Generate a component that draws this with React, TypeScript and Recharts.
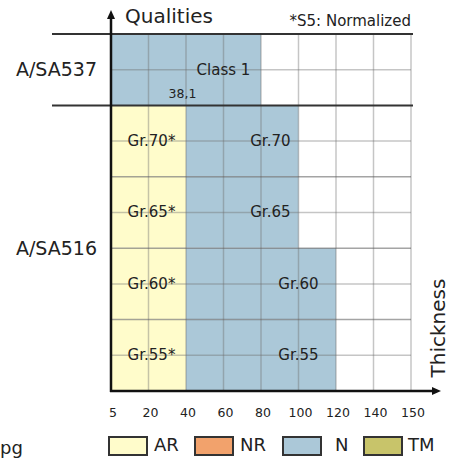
import React from 'react'
import { BarChart, Bar, XAxis, YAxis, ReferenceLine, ReferenceDot, Legend, LabelList } from 'recharts'

// thickness ticks (mm) - evenly spaced on the axis even though the values aren't
const thicknessTicks = [5, 20, 40, 60, 80, 100, 120, 140, 150]
const minThickness = 5

// qualities, top to bottom
const qualities = ['A/SA537 Class 1', 'Gr.70', 'Gr.65', 'Gr.60', 'Gr.55']
const standards = ['A/SA537', 'A/SA516']
const arLabels = ['', 'Gr.70*', 'Gr.65*', 'Gr.60*', 'Gr.55*']
const nLabels = ['Class 1', 'Gr.70', 'Gr.65', 'Gr.60', 'Gr.55']
const arMaxThickness = [0, 40, 40, 40, 40]
const nMaxThickness = [80, 100, 100, 120, 120]

const deliveryConditions = ['AR', 'NR', 'N', 'TM']
const conditionColors = ['#fffccb', '#f2a26c', '#abc8d8', '#c8c46a']

const class1Note = { text: '38,1', thickness: 38.1 }
const footnote = '*S5: Normalized'

const FONT = "'DejaVu Sans', sans-serif"

// map a thickness onto the evenly spaced tick index scale
const tickPos = (t: number) => {
  for (let i = 0; i < thicknessTicks.length - 1; i++) {
    const a = thicknessTicks[i]
    const b = thicknessTicks[i + 1]
    if (t <= b) return i + (t - a) / (b - a)
  }
  return thicknessTicks.length - 1
}

const data = qualities.map((q, i) => {
  const arEnd = arMaxThickness[i] ? tickPos(arMaxThickness[i]) : tickPos(minThickness)
  return {
    quality: q,
    AR: arEnd - tickPos(minThickness),
    NR: 0,
    N: tickPos(nMaxThickness[i]) - arEnd,
    TM: 0,
    arLabel: arLabels[i],
    nLabel: nLabels[i],
  }
})

const tickIdx = thicknessTicks.map((_, i) => i)
const gridColor = 'rgba(110,110,110,0.4)'
const rowLineColor = 'rgba(90,90,90,0.55)'

const ArLabel = (props: any) => {
  const { x, y, width, height, value } = props
  if (!value) return null
  return (
    <text x={x + width / 2 + 3} y={y + height / 2} textAnchor="middle" dominantBaseline="central"
      fontSize={15} fontFamily={FONT} fill="#222">{value}</text>
  )
}

const NLabel = (props: any) => {
  const { x, y, width, height, value } = props
  if (!value) return null
  return (
    <text x={x + width * 0.75} y={y + height / 2} textAnchor="middle" dominantBaseline="central"
      fontSize={15} fontFamily={FONT} fill="#222">{value}</text>
  )
}

// heavy rule that reaches out past the axis to the standard labels
const BlackRule = (props: any) => {
  const { x1, x2, y1 } = props
  const left = Math.min(x1, x2)
  const right = Math.max(x1, x2)
  return <line x1={left - 59} x2={right + 2} y1={y1} y2={y1} stroke="#333" strokeWidth={2} />
}

const XArrow = (props: any) => {
  const { x1, x2, y1 } = props
  const left = Math.min(x1, x2)
  const tip = Math.max(x1, x2) + 30
  return (
    <g>
      <line x1={left - 1} x2={tip - 6} y1={y1} y2={y1} stroke="#111" strokeWidth={2.5} />
      <path d={`M${tip},${y1} L${tip - 9},${y1 - 4} L${tip - 9},${y1 + 4} Z`} fill="#111" />
    </g>
  )
}

const YArrow = (props: any) => {
  const { x1, y1, y2 } = props
  const top = Math.min(y1, y2) - 24
  const bottom = Math.max(y1, y2)
  return (
    <g>
      <line x1={x1} x2={x1} y1={top + 6} y2={bottom + 1} stroke="#111" strokeWidth={2.5} />
      <path d={`M${x1},${top} L${x1 - 4},${top + 9} L${x1 + 4},${top + 9} Z`} fill="#111" />
    </g>
  )
}

const noteLabel = (props: any) => {
  const { viewBox } = props
  const cx = viewBox.x + viewBox.width / 2
  const cy = viewBox.y + viewBox.height / 2
  return (
    <text x={cx} y={cy + 24} textAnchor="middle" dominantBaseline="central"
      fontSize={12.5} fontFamily={FONT} fill="#222">{class1Note.text}</text>
  )
}

const legendBoxLeft = [108, 194, 282, 363]
const legendTextLeft = [154, 240, 335, 408]

const renderLegend = (props: any) => {
  const payload = props.payload || []
  // keep the legend in series order, not alphabetical
  const items = deliveryConditions
    .map((c) => payload.find((p: any) => p.value === c))
    .filter(Boolean)
  return (
    <div style={{ position: 'relative', height: 36, width: 455, fontFamily: FONT }}>
      {items.map((p: any, i: number) => (
        <React.Fragment key={p.value}>
          <div style={{
            position: 'absolute', left: legendBoxLeft[i], top: 15, width: 36, height: 16,
            background: p.color, border: '2px solid #333'
          }} />
          <div style={{
            position: 'absolute', left: legendTextLeft[i], top: 13, fontSize: 18, lineHeight: '22px', color: '#222'
          }}>{p.value}</div>
        </React.Fragment>
      ))}
    </div>
  )
}

const labelStyle = { fontSize: 19, fontFamily: FONT, fill: '#222' }

export default function App() {
  return (
    <div style={{ position: 'absolute', left: 0, top: 0, width: 455, height: 460, overflow: 'hidden', background: '#fff' }}>
      <BarChart
        width={455}
        height={460}
        data={data}
        layout="vertical"
        barCategoryGap={0}
        margin={{ top: 34, right: 44, left: 111, bottom: 3 }}
        style={{ fontFamily: FONT }}
      >
        <XAxis
          type="number"
          domain={[0, thicknessTicks.length - 1]}
          ticks={tickIdx}
          tickFormatter={(v: number) => String(thicknessTicks[v])}
          axisLine={false}
          tickLine={false}
          tickMargin={11}
          height={30}
          tick={{ fill: '#222', fontSize: 12.5, fontFamily: FONT, dx: 2 }}
          interval={0}
        />
        <YAxis type="category" dataKey="quality" hide />
        <Legend verticalAlign="bottom" content={renderLegend} wrapperStyle={{ left: 0, width: 455 }} />

        {deliveryConditions.map((c, i) => (
          <Bar key={c} dataKey={c} name={c} stackId="q" fill={conditionColors[i]} isAnimationActive={false}>
            {c === 'AR' && <LabelList dataKey="arLabel" content={ArLabel} />}
            {c === 'N' && <LabelList dataKey="nLabel" content={NLabel} />}
          </Bar>
        ))}

        {tickIdx.slice(1).map((t) => (
          <ReferenceLine key={'v' + t} x={t} stroke={gridColor} strokeWidth={1.5} />
        ))}
        {qualities.map((q, i) => (
          <ReferenceLine key={'m' + q} y={q} position="middle" stroke={gridColor} strokeWidth={1.5}
            label={i === 0 ? { value: standards[0], position: 'left', offset: 14, ...labelStyle } : undefined} />
        ))}
        {qualities.slice(1, 4).map((q, i) => (
          <ReferenceLine key={'e' + q} y={q} position="end" stroke={rowLineColor} strokeWidth={1.5}
            label={i === 1 ? { value: standards[1], position: 'left', offset: 14, ...labelStyle } : undefined} />
        ))}

        <ReferenceLine y={qualities[0]} position="start" shape={BlackRule} />
        <ReferenceLine y={qualities[0]} position="end" shape={BlackRule} />
        <ReferenceLine y={qualities[qualities.length - 1]} position="end" shape={XArrow} />
        <ReferenceLine x={0} shape={YArrow} />

        <ReferenceDot x={tickPos(class1Note.thickness)} y={qualities[0]} r={0} stroke="none" fill="none" label={noteLabel} />
      </BarChart>

      <svg width={455} height={460} style={{ position: 'absolute', left: 0, top: 0, pointerEvents: 'none' }}>
        <text x={125} y={23} fontSize={20} fontFamily={FONT} fill="#222">Qualities</text>
        <text x={411} y={26} fontSize={15} textAnchor="end" fontFamily={FONT} fill="#222">{footnote}</text>
        <text x={445} y={328} fontSize={20} textAnchor="middle" fontFamily={FONT} fill="#222"
          transform="rotate(-90, 445, 328)">Thickness</text>
        <text x={0} y={454} fontSize={18} fontFamily={FONT} fill="#222">pg</text>
      </svg>
    </div>
  )
}
